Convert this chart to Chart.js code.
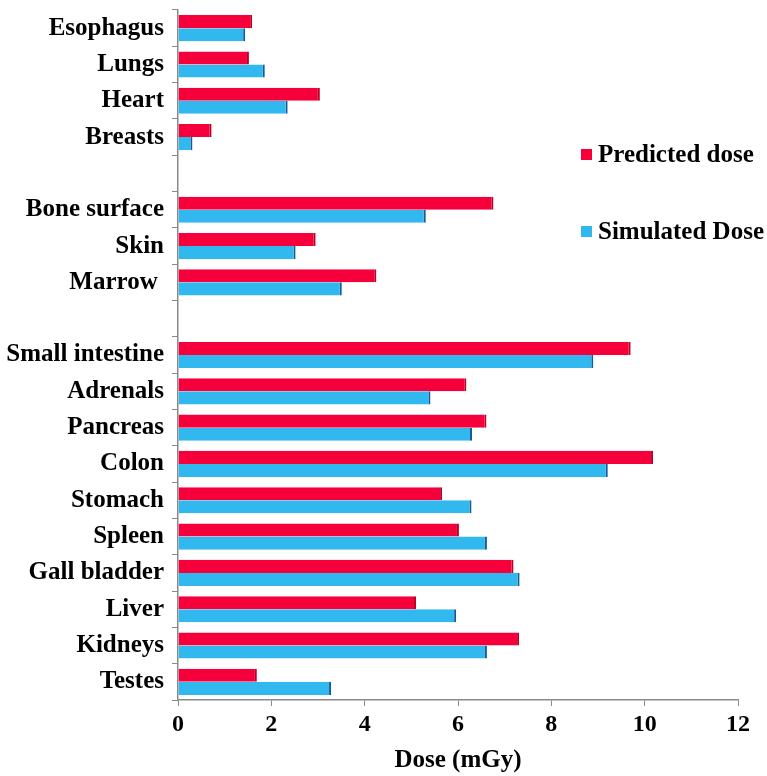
<!DOCTYPE html>
<html>
<head>
<meta charset="utf-8">
<script src="https://cdn.jsdelivr.net/npm/chart.js@4"></script>
<style>
  html, body { margin: 0; padding: 0; background: #fff; }
  #wrap { width: 767px; height: 776px; }
</style>
</head>
<body>
<div id="wrap"><canvas id="doseChart" width="767" height="776"></canvas></div>
<script>
const organs = ['Esophagus', 'Lungs', 'Heart', 'Breasts', '', 'Bone surface', 'Skin', 'Marrow ', '',
    'Small intestine', 'Adrenals', 'Pancreas', 'Colon', 'Stomach', 'Spleen', 'Gall bladder', 'Liver', 'Kidneys', 'Testes'];
const predictedDose = [1.59, 1.52, 3.04, 0.72, null, 6.76, 2.95, 4.25, null,
    9.70, 6.18, 6.61, 10.18, 5.66, 6.02, 7.19, 5.10, 7.31, 1.69];
const simulatedDose = [1.44, 1.86, 2.35, 0.31, null, 5.31, 2.52, 3.51, null,
    8.90, 5.41, 6.30, 9.21, 6.29, 6.62, 7.32, 5.96, 6.62, 3.28];
const doseTicks = [0, 2, 4, 6, 8, 10, 12];

document.addEventListener('DOMContentLoaded', () => {
    const ctx = document.getElementById('doseChart').getContext('2d');
    const serifBold = (size) => ({family: '"Liberation Serif", "Times New Roman", serif', size: size, weight: 'bold'});

    // legend sits inside the plot on the right, drawn by hand
    const sideLegend = {
        id: 'sideLegend',
        afterDraw(chart) {
            const {ctx} = chart;
            const items = [
                {text: 'Predicted dose', color: '#f5003a', y: 155},
                {text: 'Simulated Dose', color: '#30b8ef', y: 232}
            ];
            ctx.save();
            ctx.font = 'bold 25px "Liberation Serif", serif';
            ctx.textBaseline = 'middle';
            ctx.textAlign = 'left';
            items.forEach(it => {
                ctx.fillStyle = it.color;
                ctx.fillRect(581, it.y - 6, 11, 11);
                ctx.fillStyle = '#000';
                ctx.fillText(it.text, 598, it.y + 1);
            });
            ctx.restore();
        }
    };

    new Chart(ctx, {
        type: 'bar',
        data: {
            labels: organs,
            datasets: [{
                label: 'Predicted dose',
                data: predictedDose,
                backgroundColor: '#f5003a',
                borderColor: '#b8002a',
                borderWidth: {right: 2, top: 0, bottom: 0, left: 0},
                borderSkipped: 'left',
                barPercentage: 1,
                categoryPercentage: 0.72
            }, {
                label: 'Simulated Dose',
                data: simulatedDose,
                backgroundColor: '#30b8ef',
                borderColor: '#165a98',
                borderWidth: {right: 2, top: 0, bottom: 0, left: 0},
                borderSkipped: 'left',
                barPercentage: 1,
                categoryPercentage: 0.72
            }]
        },
        options: {
            indexAxis: 'y',
            responsive: false,
            animation: false,
            layout: {padding: {top: 10, right: 29, left: 0, bottom: 0}},
            scales: {
                x: {
                    min: 0,
                    max: 12,
                    afterBuildTicks(scale) {
                        scale.ticks = doseTicks.map(v => ({value: v}));
                    },
                    afterFit(scale) { scale.height = 76; },
                    grid: {drawOnChartArea: false, color: '#8a8a8a', tickLength: 6},
                    border: {color: '#8a8a8a', width: 1.5},
                    ticks: {color: '#000', font: serifBold(24), padding: 4},
                    title: {display: true, text: 'Dose (mGy)', color: '#000', font: serifBold(25), padding: {top: 2, bottom: 0}}
                },
                y: {
                    afterFit(scale) {
                        scale.width = 178;
                        scale.paddingTop = 0;
                        scale.paddingBottom = 0;
                    },
                    grid: {drawOnChartArea: false, offset: true, color: '#8a8a8a', tickLength: 6},
                    border: {color: '#8a8a8a', width: 1.5},
                    ticks: {color: '#000', font: serifBold(25), padding: 8, autoSkip: false}
                }
            },
            plugins: {
                legend: {display: false},
                tooltip: {enabled: false}
            }
        },
        plugins: [sideLegend]
    });
});
</script>
</body>
</html>
